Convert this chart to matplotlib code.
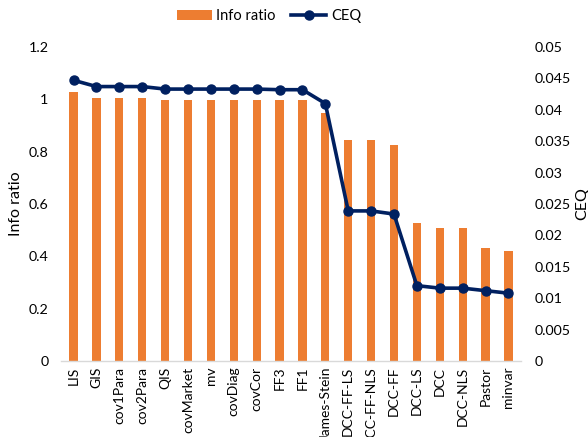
import matplotlib
matplotlib.use("Agg")
import matplotlib.pyplot as plt
import numpy as np

plt.rcParams['font.family'] = ['Lato', 'DejaVu Sans']

categories = ["LIS", "GIS", "cov1Para", "cov2Para", "QIS", "covMarket", "mv",
              "covDiag", "covCor", "FF3", "FF1", "James-Stein", "DCC-FF-LS",
              "DCC-FF-NLS", "DCC-FF", "DCC-LS", "DCC", "DCC-NLS", "Pastor", "minvar"]
info_ratio = [1.028, 1.006, 1.005, 1.005, 0.998, 0.998, 0.998, 0.998, 0.998,
              0.996, 0.996, 0.946, 0.845, 0.845, 0.825, 0.527, 0.508, 0.508,
              0.432, 0.421]
ceq = [0.0447, 0.0437, 0.0437, 0.0437, 0.0433, 0.0433, 0.0433, 0.0433, 0.0433,
       0.0432, 0.0432, 0.0410, 0.0239, 0.0239, 0.0234, 0.0120, 0.0116, 0.0116,
       0.0112, 0.0108]

ir_ticks = [0, 0.2, 0.4, 0.6, 0.8, 1, 1.2]
ceq_ticks = [0, 0.005, 0.01, 0.015, 0.02, 0.025, 0.03, 0.035, 0.04, 0.045, 0.05]

orange = "#ED7D31"
navy = "#002060"
text_color = "#000000"

fig = plt.figure(figsize=(5.88, 4.37), dpi=100)
ax = fig.add_axes([61/588, 1-361/437, (521-61)/588, (361-47)/437])
ax2 = ax.twinx()

x = np.arange(len(categories))
ax.bar(x, info_ratio, width=0.36, color=orange, zorder=2, label="Info ratio")
ax2.plot(x, ceq, color=navy, linewidth=2.6, marker="o", markersize=6.5,
         zorder=3, label="CEQ")

ax.set_xlim(-0.55, len(categories) - 0.45)
ax.set_ylim(0, 1.2)
ax2.set_ylim(0, 0.05)
ax.set_yticks(ir_ticks)
ax.set_yticklabels(["0", "0.2", "0.4", "0.6", "0.8", "1", "1.2"])
ax2.set_yticks(ceq_ticks)
ax2.set_yticklabels(["0", "0.005", "0.01", "0.015", "0.02", "0.025", "0.03",
                     "0.035", "0.04", "0.045", "0.05"])
ax.set_xticks(x)
ax.set_xticklabels(categories, rotation=90)

for a in (ax, ax2):
    for side in ("top", "left", "right", "bottom"):
        a.spines[side].set_visible(False)
    a.tick_params(length=0, labelsize=10.3, colors=text_color)
ax.spines["bottom"].set_visible(True)
ax.spines["bottom"].set_color("#D9D9D9")
ax.spines["bottom"].set_linewidth(1)
ax.tick_params(axis="y", pad=9)
ax2.tick_params(axis="y", pad=10)
ax.tick_params(axis="x", pad=4, labelsize=10)

ax.set_ylabel("Info ratio", fontsize=11.5, labelpad=4)
ax2.set_ylabel("CEQ", fontsize=11.5, labelpad=3)

h1, l1 = ax.get_legend_handles_labels()
h2, l2 = ax2.get_legend_handles_labels()
fig.legend(h1 + h2, l1 + l2, loc="center", bbox_to_anchor=(0.457, 1-16/437),
           ncol=2, frameon=False, fontsize=10.5, handlelength=2.4,
           handletextpad=0.3, columnspacing=1.1)

fig.savefig("out.png", dpi=100)
